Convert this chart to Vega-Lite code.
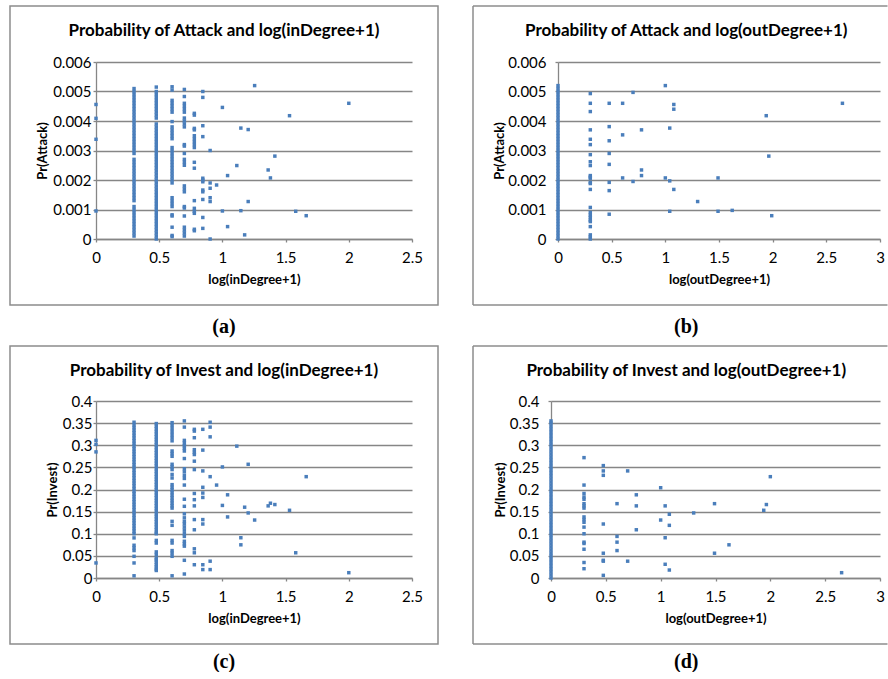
{
"$schema":"https://vega.github.io/schema/vega-lite/v6.json",
"autosize":{"type":"pad"},
"padding":{"left":9,"top":5,"right":0,"bottom":0},
"background":"white",
"config":{
 "view":{"stroke":null},
 "font":"Lato",
 "title":{"font":"Lato","fontSize":17,"fontWeight":"bold","color":"#000","anchor":"middle"},
 "axis":{"labelFont":"Lato","labelFontSize":15,"labelColor":"#000","titleFont":"Lato","titleFontSize":13,"titleFontWeight":"bold","titleColor":"#000","domainColor":"#868686","domainWidth":1.3,"tickColor":"#868686","tickSize":3,"tickWidth":1.3,"gridColor":"#868686","gridWidth":1.3,"labelOverlap":false,"labelFlush":false,"format":"~g"},
 "axisX":{"grid":false,"labelPadding":8,"titlePadding":8},
 "axisY":{"grid":true,"labelPadding":2,"titlePadding":3}
},
"datasets":{
"a":[
{"x":0,"y":0.00456},{"x":0,"y":0.00409},{"x":0,"y":0.00338},{"x":0,"y":0.00095},
{"x":0.301,"y":0.0001},{"x":0.301,"y":0.0002},{"x":0.301,"y":0.0003},{"x":0.301,"y":0.0004},{"x":0.301,"y":0.0005},{"x":0.301,"y":0.0006},{"x":0.301,"y":0.0007},{"x":0.301,"y":0.0008},{"x":0.301,"y":0.0009},{"x":0.301,"y":0.001},{"x":0.301,"y":0.0011},{"x":0.301,"y":0.0013},{"x":0.301,"y":0.0014},{"x":0.301,"y":0.0015},{"x":0.301,"y":0.0016},{"x":0.301,"y":0.0017},{"x":0.301,"y":0.0018},{"x":0.301,"y":0.0019},{"x":0.301,"y":0.002},{"x":0.301,"y":0.0021},{"x":0.301,"y":0.0022},{"x":0.301,"y":0.0023},{"x":0.301,"y":0.0024},{"x":0.301,"y":0.0025},{"x":0.301,"y":0.0026},{"x":0.301,"y":0.0027},{"x":0.301,"y":0.0029},{"x":0.301,"y":0.003},{"x":0.301,"y":0.0031},{"x":0.301,"y":0.0032},{"x":0.301,"y":0.0033},{"x":0.301,"y":0.0034},{"x":0.301,"y":0.0035},{"x":0.301,"y":0.0036},{"x":0.301,"y":0.0037},{"x":0.301,"y":0.0038},{"x":0.301,"y":0.0039},{"x":0.301,"y":0.004},{"x":0.301,"y":0.0041},{"x":0.301,"y":0.0042},{"x":0.301,"y":0.0043},{"x":0.301,"y":0.0044},{"x":0.301,"y":0.0045},{"x":0.301,"y":0.0046},{"x":0.301,"y":0.0047},{"x":0.301,"y":0.0048},{"x":0.301,"y":0.0049},{"x":0.301,"y":0.005},{"x":0.301,"y":0.0051},
{"x":0.477,"y":0},{"x":0.477,"y":0.0001},{"x":0.477,"y":0.0002},{"x":0.477,"y":0.0003},{"x":0.477,"y":0.0004},{"x":0.477,"y":0.0005},{"x":0.477,"y":0.0006},{"x":0.477,"y":0.0007},{"x":0.477,"y":0.0008},{"x":0.477,"y":0.0009},{"x":0.477,"y":0.001},{"x":0.477,"y":0.0011},{"x":0.477,"y":0.0012},{"x":0.477,"y":0.0013},{"x":0.477,"y":0.0014},{"x":0.477,"y":0.0015},{"x":0.477,"y":0.0016},{"x":0.477,"y":0.0017},{"x":0.477,"y":0.0018},{"x":0.477,"y":0.0019},{"x":0.477,"y":0.002},{"x":0.477,"y":0.0021},{"x":0.477,"y":0.0022},{"x":0.477,"y":0.0023},{"x":0.477,"y":0.0024},{"x":0.477,"y":0.0025},{"x":0.477,"y":0.0026},{"x":0.477,"y":0.0027},{"x":0.477,"y":0.0028},{"x":0.477,"y":0.0029},{"x":0.477,"y":0.003},{"x":0.477,"y":0.0031},{"x":0.477,"y":0.0032},{"x":0.477,"y":0.0033},{"x":0.477,"y":0.0034},{"x":0.477,"y":0.0035},{"x":0.477,"y":0.0036},{"x":0.477,"y":0.0037},{"x":0.477,"y":0.0038},{"x":0.477,"y":0.0039},{"x":0.477,"y":0.0041},{"x":0.477,"y":0.0042},{"x":0.477,"y":0.0043},{"x":0.477,"y":0.0044},{"x":0.477,"y":0.0045},{"x":0.477,"y":0.0046},{"x":0.477,"y":0.0047},{"x":0.477,"y":0.0048},{"x":0.477,"y":0.0049},{"x":0.477,"y":0.005},{"x":0.477,"y":0.00515},
{"x":0.602,"y":0.00516},{"x":0.602,"y":0.00505},{"x":0.602,"y":0.0047},{"x":0.602,"y":0.0046},{"x":0.602,"y":0.0045},{"x":0.602,"y":0.0044},{"x":0.602,"y":0.0043},{"x":0.602,"y":0.00398},{"x":0.602,"y":0.0038},{"x":0.602,"y":0.0037},{"x":0.602,"y":0.0036},{"x":0.602,"y":0.0035},{"x":0.602,"y":0.0034},{"x":0.602,"y":0.0031},{"x":0.602,"y":0.003},{"x":0.602,"y":0.0029},{"x":0.602,"y":0.0028},{"x":0.602,"y":0.0027},{"x":0.602,"y":0.0026},{"x":0.602,"y":0.0025},{"x":0.602,"y":0.0024},{"x":0.602,"y":0.0023},{"x":0.602,"y":0.0022},{"x":0.602,"y":0.0021},{"x":0.602,"y":0.002},{"x":0.602,"y":0.0019},{"x":0.602,"y":0.0014},{"x":0.602,"y":0.0013},{"x":0.602,"y":0.0012},{"x":0.602,"y":0.0011},{"x":0.602,"y":0.00082},{"x":0.602,"y":0.00078},{"x":0.602,"y":0.0004},{"x":0.602,"y":0.00012},{"x":0.602,"y":0.00008},
{"x":0.699,"y":0.00507},{"x":0.699,"y":0.00483},{"x":0.699,"y":0.0046},{"x":0.699,"y":0.0045},{"x":0.699,"y":0.0044},{"x":0.699,"y":0.0043},{"x":0.699,"y":0.0041},{"x":0.699,"y":0.004},{"x":0.699,"y":0.0039},{"x":0.699,"y":0.0038},{"x":0.699,"y":0.0032},{"x":0.699,"y":0.00315},{"x":0.699,"y":0.0029},{"x":0.699,"y":0.0027},{"x":0.699,"y":0.0026},{"x":0.699,"y":0.0025},{"x":0.699,"y":0.0018},{"x":0.699,"y":0.0017},{"x":0.699,"y":0.0016},{"x":0.699,"y":0.0011},{"x":0.699,"y":0.00105},{"x":0.699,"y":0.00078},{"x":0.699,"y":0.0004},{"x":0.699,"y":0.0003},{"x":0.699,"y":0.0002},{"x":0.699,"y":0.0001},
{"x":0.778,"y":0.00426},{"x":0.778,"y":0.0042},{"x":0.778,"y":0.00375},{"x":0.778,"y":0.0037},{"x":0.778,"y":0.0035},{"x":0.778,"y":0.0034},{"x":0.778,"y":0.0033},{"x":0.778,"y":0.0032},{"x":0.778,"y":0.0031},{"x":0.778,"y":0.0026},{"x":0.778,"y":0.0024},{"x":0.778,"y":0.0013},{"x":0.778,"y":0.00104},{"x":0.778,"y":0.00094},{"x":0.778,"y":0.00087},{"x":0.778,"y":0.00033},{"x":0.778,"y":0.00028},
{"x":0.845,"y":0.005},{"x":0.845,"y":0.0048},{"x":0.845,"y":0.00384},{"x":0.845,"y":0.00347},{"x":0.845,"y":0.00206},{"x":0.845,"y":0.002},{"x":0.845,"y":0.00194},{"x":0.845,"y":0.00166},{"x":0.845,"y":0.0016},{"x":0.845,"y":0.00134},{"x":0.845,"y":0.00073},{"x":0.845,"y":0.00036},
{"x":0.903,"y":0.003},{"x":0.903,"y":0.0019},{"x":0.903,"y":0.00172},{"x":0.903,"y":0.0014},{"x":0.903,"y":0.00127},{"x":0.903,"y":0},
{"x":0.954,"y":0.00183},{"x":1.0,"y":0.00446},{"x":1.0,"y":0.00095},{"x":1.041,"y":0.00215},{"x":1.041,"y":0.00042},{"x":1.114,"y":0.00249},{"x":1.146,"y":0.00376},{"x":1.146,"y":0.00096},{"x":1.176,"y":0.00014},{"x":1.204,"y":0.00371},{"x":1.204,"y":0.00127},{"x":1.255,"y":0.0052},{"x":1.362,"y":0.00234},{"x":1.38,"y":0.00207},{"x":1.415,"y":0.00281},{"x":1.531,"y":0.00418},{"x":1.58,"y":0.00094},{"x":1.663,"y":0.00079},{"x":2,"y":0.0046}
],
"b":[
{"x":0,"y":0},{"x":0,"y":0.0001},{"x":0,"y":0.0002},{"x":0,"y":0.0003},{"x":0,"y":0.0004},{"x":0,"y":0.0005},{"x":0,"y":0.0006},{"x":0,"y":0.0007},{"x":0,"y":0.0008},{"x":0,"y":0.0009},{"x":0,"y":0.001},{"x":0,"y":0.0011},{"x":0,"y":0.0012},{"x":0,"y":0.0013},{"x":0,"y":0.0014},{"x":0,"y":0.0015},{"x":0,"y":0.0016},{"x":0,"y":0.0017},{"x":0,"y":0.0018},{"x":0,"y":0.0019},{"x":0,"y":0.002},{"x":0,"y":0.0021},{"x":0,"y":0.0022},{"x":0,"y":0.0023},{"x":0,"y":0.0024},{"x":0,"y":0.0025},{"x":0,"y":0.0026},{"x":0,"y":0.0027},{"x":0,"y":0.0028},{"x":0,"y":0.0029},{"x":0,"y":0.003},{"x":0,"y":0.0031},{"x":0,"y":0.0032},{"x":0,"y":0.0033},{"x":0,"y":0.0034},{"x":0,"y":0.0035},{"x":0,"y":0.0036},{"x":0,"y":0.0037},{"x":0,"y":0.0038},{"x":0,"y":0.0039},{"x":0,"y":0.004},{"x":0,"y":0.0041},{"x":0,"y":0.0042},{"x":0,"y":0.0043},{"x":0,"y":0.0044},{"x":0,"y":0.0045},{"x":0,"y":0.0046},{"x":0,"y":0.0047},{"x":0,"y":0.0048},{"x":0,"y":0.0049},{"x":0,"y":0.005},{"x":0,"y":0.0051},{"x":0,"y":0.0052},
{"x":0.301,"y":0.00493},{"x":0.301,"y":0.0046},{"x":0.301,"y":0.00432},{"x":0.301,"y":0.0037},{"x":0.301,"y":0.00338},{"x":0.301,"y":0.0032},{"x":0.301,"y":0.00286},{"x":0.301,"y":0.00262},{"x":0.301,"y":0.00249},{"x":0.301,"y":0.00215},{"x":0.301,"y":0.0021},{"x":0.301,"y":0.00206},{"x":0.301,"y":0.00192},{"x":0.301,"y":0.00188},{"x":0.301,"y":0.00168},{"x":0.301,"y":0.00107},{"x":0.301,"y":0.0009},{"x":0.301,"y":0.00081},{"x":0.301,"y":0.00073},{"x":0.301,"y":0.00064},{"x":0.301,"y":0.00059},{"x":0.301,"y":0.00042},{"x":0.301,"y":0.00014},{"x":0.301,"y":0.00007},{"x":0.301,"y":0},
{"x":0.477,"y":0.0046},{"x":0.477,"y":0.00381},{"x":0.477,"y":0.00333},{"x":0.477,"y":0.0029},{"x":0.477,"y":0.00253},{"x":0.477,"y":0.00192},{"x":0.477,"y":0.00164},{"x":0.477,"y":0.00084},
{"x":0.602,"y":0.0046},{"x":0.602,"y":0.00353},{"x":0.602,"y":0.00207},
{"x":0.699,"y":0.00497},{"x":0.699,"y":0.00195},
{"x":0.778,"y":0.0037},{"x":0.778,"y":0.00234},{"x":0.778,"y":0.00215},
{"x":1.0,"y":0.0052},{"x":1.0,"y":0.00207},
{"x":1.041,"y":0.00376},{"x":1.041,"y":0.00197},{"x":1.041,"y":0.00094},
{"x":1.079,"y":0.00456},{"x":1.079,"y":0.0044},{"x":1.079,"y":0.00168},
{"x":1.301,"y":0.00127},{"x":1.491,"y":0.00207},{"x":1.491,"y":0.00094},{"x":1.623,"y":0.00097},{"x":1.94,"y":0.00418},{"x":1.964,"y":0.00281},{"x":1.991,"y":0.00079},{"x":2.65,"y":0.0046}
],
"c":[
{"x":0,"y":0.311},{"x":0,"y":0.302},{"x":0,"y":0.285},{"x":0,"y":0.034},
{"x":0.301,"y":0.1},{"x":0.301,"y":0.106},{"x":0.301,"y":0.112},{"x":0.301,"y":0.118},{"x":0.301,"y":0.124},{"x":0.301,"y":0.13},{"x":0.301,"y":0.136},{"x":0.301,"y":0.142},{"x":0.301,"y":0.148},{"x":0.301,"y":0.154},{"x":0.301,"y":0.16},{"x":0.301,"y":0.166},{"x":0.301,"y":0.172},{"x":0.301,"y":0.178},{"x":0.301,"y":0.184},{"x":0.301,"y":0.19},{"x":0.301,"y":0.196},{"x":0.301,"y":0.202},{"x":0.301,"y":0.208},{"x":0.301,"y":0.214},{"x":0.301,"y":0.22},{"x":0.301,"y":0.226},{"x":0.301,"y":0.232},{"x":0.301,"y":0.238},{"x":0.301,"y":0.244},{"x":0.301,"y":0.25},{"x":0.301,"y":0.256},{"x":0.301,"y":0.262},{"x":0.301,"y":0.268},{"x":0.301,"y":0.274},{"x":0.301,"y":0.28},{"x":0.301,"y":0.286},{"x":0.301,"y":0.292},{"x":0.301,"y":0.298},{"x":0.301,"y":0.304},{"x":0.301,"y":0.31},{"x":0.301,"y":0.316},{"x":0.301,"y":0.322},{"x":0.301,"y":0.328},{"x":0.301,"y":0.334},{"x":0.301,"y":0.34},{"x":0.301,"y":0.346},{"x":0.301,"y":0.352},
{"x":0.301,"y":0.0906},{"x":0.301,"y":0.074},{"x":0.301,"y":0.068},{"x":0.301,"y":0.062},{"x":0.301,"y":0.049},{"x":0.301,"y":0.034},{"x":0.301,"y":0.005},
{"x":0.477,"y":0.1},{"x":0.477,"y":0.103},{"x":0.477,"y":0.109},{"x":0.477,"y":0.115},{"x":0.477,"y":0.121},{"x":0.477,"y":0.127},{"x":0.477,"y":0.133},{"x":0.477,"y":0.139},{"x":0.477,"y":0.145},{"x":0.477,"y":0.151},{"x":0.477,"y":0.157},{"x":0.477,"y":0.163},{"x":0.477,"y":0.169},{"x":0.477,"y":0.175},{"x":0.477,"y":0.181},{"x":0.477,"y":0.187},{"x":0.477,"y":0.193},{"x":0.477,"y":0.199},{"x":0.477,"y":0.205},{"x":0.477,"y":0.211},{"x":0.477,"y":0.217},{"x":0.477,"y":0.223},{"x":0.477,"y":0.229},{"x":0.477,"y":0.235},{"x":0.477,"y":0.241},{"x":0.477,"y":0.247},{"x":0.477,"y":0.253},{"x":0.477,"y":0.259},{"x":0.477,"y":0.265},{"x":0.477,"y":0.271},{"x":0.477,"y":0.277},{"x":0.477,"y":0.283},{"x":0.477,"y":0.289},{"x":0.477,"y":0.295},{"x":0.477,"y":0.301},{"x":0.477,"y":0.307},{"x":0.477,"y":0.313},{"x":0.477,"y":0.319},{"x":0.477,"y":0.325},{"x":0.477,"y":0.331},{"x":0.477,"y":0.337},{"x":0.477,"y":0.343},{"x":0.477,"y":0.349},
{"x":0.477,"y":0.085},{"x":0.477,"y":0.079},{"x":0.477,"y":0.059},{"x":0.477,"y":0.053},{"x":0.477,"y":0.045},{"x":0.477,"y":0.041},{"x":0.477,"y":0.036},{"x":0.477,"y":0.03},{"x":0.477,"y":0.025},{"x":0.477,"y":0.02},{"x":0.477,"y":0.017},
{"x":0.602,"y":0.351},{"x":0.602,"y":0.345},{"x":0.602,"y":0.338},{"x":0.602,"y":0.331},{"x":0.602,"y":0.324},{"x":0.602,"y":0.317},{"x":0.602,"y":0.31},{"x":0.602,"y":0.287},{"x":0.602,"y":0.281},{"x":0.602,"y":0.275},{"x":0.602,"y":0.257},{"x":0.602,"y":0.251},{"x":0.602,"y":0.245},{"x":0.602,"y":0.234},{"x":0.602,"y":0.226},{"x":0.602,"y":0.211},{"x":0.602,"y":0.205},{"x":0.602,"y":0.199},{"x":0.602,"y":0.193},{"x":0.602,"y":0.187},{"x":0.602,"y":0.181},{"x":0.602,"y":0.175},{"x":0.602,"y":0.169},{"x":0.602,"y":0.163},{"x":0.602,"y":0.158},{"x":0.602,"y":0.128},{"x":0.602,"y":0.119},{"x":0.602,"y":0.085},{"x":0.602,"y":0.079},{"x":0.602,"y":0.062},{"x":0.602,"y":0.056},{"x":0.602,"y":0.049},{"x":0.602,"y":0.005},
{"x":0.699,"y":0.355},{"x":0.699,"y":0.341},{"x":0.699,"y":0.311},{"x":0.699,"y":0.305},{"x":0.699,"y":0.299},{"x":0.699,"y":0.293},{"x":0.699,"y":0.287},{"x":0.699,"y":0.27},{"x":0.699,"y":0.247},{"x":0.699,"y":0.24},{"x":0.699,"y":0.232},{"x":0.699,"y":0.225},{"x":0.699,"y":0.21},{"x":0.699,"y":0.178},{"x":0.699,"y":0.162},{"x":0.699,"y":0.145},{"x":0.699,"y":0.136},{"x":0.699,"y":0.128},{"x":0.699,"y":0.122},{"x":0.699,"y":0.115},{"x":0.699,"y":0.108},{"x":0.699,"y":0.1},{"x":0.699,"y":0.094},{"x":0.699,"y":0.083},{"x":0.699,"y":0.077},{"x":0.699,"y":0.072},{"x":0.699,"y":0.04},{"x":0.699,"y":0.009},
{"x":0.778,"y":0.336},{"x":0.778,"y":0.332},{"x":0.778,"y":0.317},{"x":0.778,"y":0.29},{"x":0.778,"y":0.284},{"x":0.778,"y":0.279},{"x":0.778,"y":0.264},{"x":0.778,"y":0.245},{"x":0.778,"y":0.191},{"x":0.778,"y":0.177},{"x":0.778,"y":0.163},{"x":0.778,"y":0.132},{"x":0.778,"y":0.109},{"x":0.778,"y":0.066},{"x":0.778,"y":0.057},{"x":0.778,"y":0.03},
{"x":0.845,"y":0.336},{"x":0.845,"y":0.289},{"x":0.845,"y":0.242},{"x":0.845,"y":0.205},{"x":0.845,"y":0.192},{"x":0.845,"y":0.182},{"x":0.845,"y":0.132},{"x":0.845,"y":0.122},{"x":0.845,"y":0.03},{"x":0.845,"y":0.019},
{"x":0.903,"y":0.352},{"x":0.903,"y":0.341},{"x":0.903,"y":0.319},{"x":0.903,"y":0.229},{"x":0.903,"y":0.038},{"x":0.903,"y":0.019},
{"x":0.954,"y":0.21},{"x":1.0,"y":0.251},{"x":1.0,"y":0.164},{"x":1.041,"y":0.188},{"x":1.041,"y":0.138},{"x":1.114,"y":0.298},{"x":1.146,"y":0.091},{"x":1.146,"y":0.075},{"x":1.176,"y":0.16},{"x":1.204,"y":0.257},{"x":1.204,"y":0.147},{"x":1.255,"y":0.131},{"x":1.362,"y":0.163},{"x":1.38,"y":0.169},{"x":1.415,"y":0.166},{"x":1.531,"y":0.153},{"x":1.58,"y":0.057},{"x":1.663,"y":0.229},{"x":2,"y":0.012}
],
"d":[
{"x":0,"y":0},{"x":0,"y":0.007},{"x":0,"y":0.014},{"x":0,"y":0.021},{"x":0,"y":0.028},{"x":0,"y":0.035},{"x":0,"y":0.042},{"x":0,"y":0.049},{"x":0,"y":0.056},{"x":0,"y":0.063},{"x":0,"y":0.07},{"x":0,"y":0.077},{"x":0,"y":0.084},{"x":0,"y":0.091},{"x":0,"y":0.098},{"x":0,"y":0.105},{"x":0,"y":0.112},{"x":0,"y":0.119},{"x":0,"y":0.126},{"x":0,"y":0.133},{"x":0,"y":0.14},{"x":0,"y":0.147},{"x":0,"y":0.154},{"x":0,"y":0.161},{"x":0,"y":0.168},{"x":0,"y":0.175},{"x":0,"y":0.182},{"x":0,"y":0.189},{"x":0,"y":0.196},{"x":0,"y":0.203},{"x":0,"y":0.21},{"x":0,"y":0.217},{"x":0,"y":0.224},{"x":0,"y":0.231},{"x":0,"y":0.238},{"x":0,"y":0.245},{"x":0,"y":0.252},{"x":0,"y":0.259},{"x":0,"y":0.266},{"x":0,"y":0.273},{"x":0,"y":0.28},{"x":0,"y":0.287},{"x":0,"y":0.294},{"x":0,"y":0.301},{"x":0,"y":0.308},{"x":0,"y":0.315},{"x":0,"y":0.322},{"x":0,"y":0.329},{"x":0,"y":0.336},{"x":0,"y":0.343},{"x":0,"y":0.35},{"x":0,"y":0.355},
{"x":0.301,"y":0.272},{"x":0.301,"y":0.21},{"x":0.301,"y":0.191},{"x":0.301,"y":0.183},{"x":0.301,"y":0.178},{"x":0.301,"y":0.168},{"x":0.301,"y":0.163},{"x":0.301,"y":0.158},{"x":0.301,"y":0.138},{"x":0.301,"y":0.132},{"x":0.301,"y":0.126},{"x":0.301,"y":0.115},{"x":0.301,"y":0.1},{"x":0.301,"y":0.081},{"x":0.301,"y":0.078},{"x":0.301,"y":0.065},{"x":0.301,"y":0.035},{"x":0.301,"y":0.021},
{"x":0.477,"y":0.254},{"x":0.477,"y":0.242},{"x":0.477,"y":0.232},{"x":0.477,"y":0.122},{"x":0.477,"y":0.056},{"x":0.477,"y":0.04},{"x":0.477,"y":0.038},{"x":0.477,"y":0.006},
{"x":0.602,"y":0.168},{"x":0.602,"y":0.094},{"x":0.602,"y":0.081},{"x":0.602,"y":0.062},
{"x":0.699,"y":0.242},{"x":0.699,"y":0.038},
{"x":0.778,"y":0.188},{"x":0.778,"y":0.163},{"x":0.778,"y":0.109},
{"x":1.0,"y":0.204},{"x":1.0,"y":0.131},
{"x":1.041,"y":0.163},{"x":1.041,"y":0.091},{"x":1.041,"y":0.031},
{"x":1.079,"y":0.144},{"x":1.079,"y":0.119},{"x":1.079,"y":0.018},
{"x":1.301,"y":0.147},{"x":1.491,"y":0.168},{"x":1.491,"y":0.056},{"x":1.623,"y":0.075},{"x":1.94,"y":0.153},{"x":1.964,"y":0.166},{"x":2,"y":0.229},{"x":2.65,"y":0.012}
]
},
"spacing":8,
"vconcat":[
{"spacing":33,"hconcat":[
{"title":{"text":"(a)","orient":"bottom","offset":11,"font":"Liberation Serif","fontSize":20,"fontWeight":"bold"},
 "vconcat":[{
 "title":{"text":"Probability of Attack and  log(inDegree+1)","offset":-48,"baseline":"alphabetic","frame":"bounds"},
 "width":316,"height":177,
 "layer":[
  {"data":{"name":"a"},"mark":{"type":"square","size":12,"color":"#4a7ebb","opacity":1},
   "encoding":{
    "x":{"field":"x","type":"quantitative","scale":{"domain":[0,2.5],"nice":false},"axis":{"values":[0,0.5,1,1.5,2,2.5],"title":"log(inDegree+1)"}},
    "y":{"field":"y","type":"quantitative","scale":{"domain":[0,0.006],"nice":false},"axis":{"values":[0,0.001,0.002,0.003,0.004,0.005,0.006],"title":"Pr(Attack)"}}}},
  {"data":{"values":[{}]},"mark":{"type":"rect","fillOpacity":0,"stroke":"#8c8c8c","strokeWidth":1.5},
   "encoding":{
    "x":{"datum":-0.6804,"type":"quantitative","axis":{"values":[0,0.5,1,1.5,2,2.5],"title":"log(inDegree+1)"}},"x2":{"datum":2.7057},
    "y":{"datum":0.0078983,"type":"quantitative","axis":{"values":[0,0.001,0.002,0.003,0.004,0.005,0.006],"title":"Pr(Attack)"}},"y2":{"datum":-0.0022373}}}
 ]}]},
{"title":{"text":"(b)","orient":"bottom","offset":11,"font":"Liberation Serif","fontSize":20,"fontWeight":"bold","dx":6},
 "vconcat":[{
 "title":{"text":"Probability of Attack and  log(outDegree+1)","offset":-48,"baseline":"alphabetic","frame":"bounds","dx":6},
 "width":322,"height":177,
 "layer":[
  {"data":{"name":"b"},"mark":{"type":"square","size":12,"color":"#4a7ebb","opacity":1},
   "encoding":{
    "x":{"field":"x","type":"quantitative","scale":{"domain":[0,3],"nice":false},"axis":{"values":[0,0.5,1,1.5,2,2.5,3],"title":"log(outDegree+1)"}},
    "y":{"field":"y","type":"quantitative","scale":{"domain":[0,0.006],"nice":false},"axis":{"values":[0,0.001,0.002,0.003,0.004,0.005,0.006],"title":"Pr(Attack)","labelPadding":9,"titlePadding":1}}}},
  {"data":{"values":[{}]},"mark":{"type":"rule","stroke":"#8c8c8c","strokeWidth":1.5},
   "encoding":{
    "x":{"datum":-0.7919,"type":"quantitative","axis":{"values":[0,0.5,1,1.5,2,2.5,3],"title":"log(outDegree+1)"}},"x2":{"datum":3.0699},
    "y":{"datum":0.0078983,"type":"quantitative","axis":{"values":[0,0.001,0.002,0.003,0.004,0.005,0.006],"title":"Pr(Attack)","labelPadding":9,"titlePadding":1}}}},
  {"data":{"values":[{}]},"mark":{"type":"rule","stroke":"#8c8c8c","strokeWidth":1.5},
   "encoding":{
    "x":{"datum":-0.7919,"type":"quantitative","axis":{"values":[0,0.5,1,1.5,2,2.5,3],"title":"log(outDegree+1)"}},"x2":{"datum":3.0699},
    "y":{"datum":-0.0022373,"type":"quantitative","axis":{"values":[0,0.001,0.002,0.003,0.004,0.005,0.006],"title":"Pr(Attack)","labelPadding":9,"titlePadding":1}}}},
  {"data":{"values":[{}]},"mark":{"type":"rule","stroke":"#8c8c8c","strokeWidth":1.5},
   "encoding":{
    "x":{"datum":-0.7919,"type":"quantitative","axis":{"values":[0,0.5,1,1.5,2,2.5,3],"title":"log(outDegree+1)"}},
    "y":{"datum":0.0078983,"type":"quantitative","axis":{"values":[0,0.001,0.002,0.003,0.004,0.005,0.006],"title":"Pr(Attack)","labelPadding":9,"titlePadding":1}},"y2":{"datum":-0.0022373}}}
 ]}]}
]},
{"spacing":33,"hconcat":[
{"title":{"text":"(c)","orient":"bottom","offset":7,"font":"Liberation Serif","fontSize":20,"fontWeight":"bold"},
 "vconcat":[{
 "title":{"text":"Probability of Invest and  log(inDegree+1)","offset":-48,"baseline":"alphabetic","frame":"bounds"},
 "width":316,"height":177,
 "layer":[
  {"data":{"name":"c"},"mark":{"type":"square","size":12,"color":"#4a7ebb","opacity":1},
   "encoding":{
    "x":{"field":"x","type":"quantitative","scale":{"domain":[0,2.5],"nice":false},"axis":{"values":[0,0.5,1,1.5,2,2.5],"title":"log(inDegree+1)"}},
    "y":{"field":"y","type":"quantitative","scale":{"domain":[0,0.4],"nice":false},"axis":{"values":[0,0.05,0.1,0.15,0.2,0.25,0.3,0.35,0.4],"title":"Pr(Invest)","labelPadding":1}}}},
  {"data":{"values":[{}]},"mark":{"type":"rect","fillOpacity":0,"stroke":"#8c8c8c","strokeWidth":1.5},
   "encoding":{
    "x":{"datum":-0.6804,"type":"quantitative","axis":{"values":[0,0.5,1,1.5,2,2.5],"title":"log(inDegree+1)"}},"x2":{"datum":2.7057},
    "y":{"datum":0.52429,"type":"quantitative","axis":{"values":[0,0.05,0.1,0.15,0.2,0.25,0.3,0.35,0.4],"title":"Pr(Invest)","labelPadding":1}},"y2":{"datum":-0.14915}}}
 ]}]},
{"title":{"text":"(d)","orient":"bottom","offset":7,"font":"Liberation Serif","fontSize":20,"fontWeight":"bold","dx":6},
 "vconcat":[{
 "title":{"text":"Probability of Invest and  log(outDegree+1)","offset":-48,"baseline":"alphabetic","frame":"bounds","dx":6},
 "width":329,"height":177,
 "layer":[
  {"data":{"name":"d"},"mark":{"type":"square","size":12,"color":"#4a7ebb","opacity":1},
   "encoding":{
    "x":{"field":"x","type":"quantitative","scale":{"domain":[0,3],"nice":false},"axis":{"values":[0,0.5,1,1.5,2,2.5,3],"title":"log(outDegree+1)"}},
    "y":{"field":"y","type":"quantitative","scale":{"domain":[0,0.4],"nice":false},"axis":{"values":[0,0.05,0.1,0.15,0.2,0.25,0.3,0.35,0.4],"title":"Pr(Invest)","labelPadding":9,"titlePadding":2}}}},
  {"data":{"values":[{}]},"mark":{"type":"rule","stroke":"#8c8c8c","strokeWidth":1.5},
   "encoding":{
    "x":{"datum":-0.7112,"type":"quantitative","axis":{"values":[0,0.5,1,1.5,2,2.5,3],"title":"log(outDegree+1)"}},"x2":{"datum":3.0684},
    "y":{"datum":0.52429,"type":"quantitative","axis":{"values":[0,0.05,0.1,0.15,0.2,0.25,0.3,0.35,0.4],"title":"Pr(Invest)","labelPadding":9,"titlePadding":2}}}},
  {"data":{"values":[{}]},"mark":{"type":"rule","stroke":"#8c8c8c","strokeWidth":1.5},
   "encoding":{
    "x":{"datum":-0.7112,"type":"quantitative","axis":{"values":[0,0.5,1,1.5,2,2.5,3],"title":"log(outDegree+1)"}},"x2":{"datum":3.0684},
    "y":{"datum":-0.14915,"type":"quantitative","axis":{"values":[0,0.05,0.1,0.15,0.2,0.25,0.3,0.35,0.4],"title":"Pr(Invest)","labelPadding":9,"titlePadding":2}}}},
  {"data":{"values":[{}]},"mark":{"type":"rule","stroke":"#8c8c8c","strokeWidth":1.5},
   "encoding":{
    "x":{"datum":-0.7112,"type":"quantitative","axis":{"values":[0,0.5,1,1.5,2,2.5,3],"title":"log(outDegree+1)"}},
    "y":{"datum":0.52429,"type":"quantitative","axis":{"values":[0,0.05,0.1,0.15,0.2,0.25,0.3,0.35,0.4],"title":"Pr(Invest)","labelPadding":9,"titlePadding":2}},"y2":{"datum":-0.14915}}}
 ]}]}
]}
]
}
